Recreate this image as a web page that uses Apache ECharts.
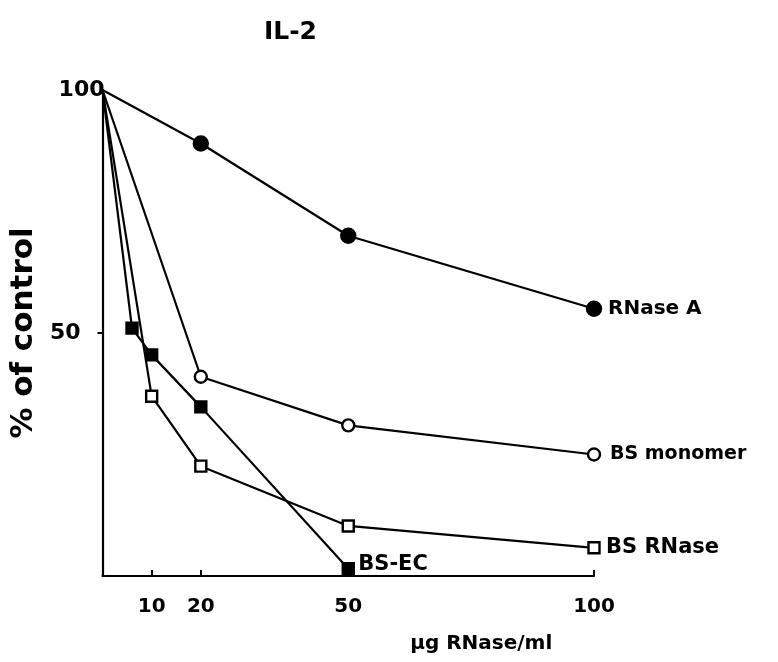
<!DOCTYPE html>
<html>
<head>
<meta charset="utf-8">
<script src="https://cdn.jsdelivr.net/npm/echarts@6/dist/echarts.min.js"></script>
<style>
  html, body { margin: 0; padding: 0; background: #fff; }
  #chart { width: 778px; height: 662px; }
</style>
</head>
<body>
<div id="chart"></div>
<script>
// values (x = ug RNase/ml, y = % of control)
var rnaseA_x = [0, 20, 50, 100];
var rnaseA_y = [100, 89, 70, 55];
var monomer_x = [0, 20, 50, 100];
var monomer_y = [100, 41, 31, 25];
var bsRnase_x = [0, 10, 20, 50, 100];
var bsRnase_y = [100, 37, 22.6, 10.3, 5.8];
var bsEc_x = [0, 6, 10, 20, 50];
var bsEc_y = [100, 51, 45.5, 34.8, 1.5];
var xTicks = [10, 20, 50, 100];
var yTicks = [50, 100];

var FONT = 'DejaVu Sans';

// the first point (the 100% control) has no marker
var toData = function (xs, ys) {
    var res = [];
    for (var i = 0; i < xs.length; i++) {
        if (i == 0) res.push({ value: [xs[i], ys[i]], symbol: 'none' });
        else res.push([xs[i], ys[i]]);
    }
    return res;
};

var makeSeries = function (name, xs, ys, symbol, size, filled, labelOffset, fontSize) {
    return {
        name: name,
        type: 'line',
        data: toData(xs, ys),
        symbol: symbol,
        symbolSize: size,
        showAllSymbol: true,
        lineStyle: { color: '#000', width: 2.2 },
        itemStyle: { color: filled ? '#000' : '#fff', borderColor: '#000', borderWidth: 2.4 },
        endLabel: {
            show: true,
            formatter: name,
            color: '#000',
            fontFamily: FONT,
            fontWeight: 'bold',
            fontSize: fontSize,
            distance: 8,
            offset: labelOffset
        },
        animation: false
    };
};

var myChart = echarts.init(document.getElementById('chart'));
var option = {
    backgroundColor: '#fff',
    animation: false,
    title: {
        text: 'IL-2',
        left: 259,
        top: 15,
        textStyle: { fontFamily: FONT, fontWeight: 'bold', fontSize: 25, color: '#000' }
    },
    grid: { left: 102, right: 184, top: 90, bottom: 86 },
    xAxis: {
        type: 'value',
        min: 0,
        max: 100,
        name: 'µg RNase/ml',
        nameLocation: 'middle',
        nameGap: 58,
        nameTextStyle: { fontFamily: FONT, fontWeight: 'bold', fontSize: 20, color: '#000', padding: [0, 0, 0, 266] },
        axisLine: { lineStyle: { color: '#000', width: 2.2 } },
        axisTick: { inside: true, length: 6, customValues: xTicks, lineStyle: { color: '#000', width: 2 } },
        axisLabel: { customValues: xTicks, margin: 21, fontFamily: FONT, fontWeight: 'bold', fontSize: 20, color: '#000' },
        splitLine: { show: false }
    },
    yAxis: {
        type: 'value',
        min: 0,
        max: 100,
        name: '% of control',
        nameLocation: 'middle',
        nameGap: 50,
        nameRotate: 90,
        nameTextStyle: { fontFamily: FONT, fontWeight: 'bold', fontSize: 31, color: '#000' },
        axisLine: { show: true, lineStyle: { color: '#000', width: 2.2 } },
        axisTick: { show: true, length: 5, customValues: [50], lineStyle: { color: '#000', width: 2 } },
        axisLabel: {
            customValues: yTicks,
            margin: 0,
            fontFamily: FONT,
            fontWeight: 'bold',
            fontSize: 22,
            color: '#000',
            formatter: function (v) { return v == 50 ? '{f|50}' : '{h|100}'; },
            rich: {
                f: { fontFamily: FONT, fontWeight: 'bold', fontSize: 22, color: '#000', padding: [0, 22, 0, 0] },
                h: { fontFamily: FONT, fontWeight: 'bold', fontSize: 22, color: '#000', padding: [0, -2, 0, 0] }
            }
        },
        splitLine: { show: false }
    },
    series: [
        makeSeries('RNase A', rnaseA_x, rnaseA_y, 'circle', 14, true, [6, 0], 20),
        makeSeries('BS monomer', monomer_x, monomer_y, 'circle', 12, false, [8, 0], 19),
        makeSeries('BS RNase', bsRnase_x, bsRnase_y, 'rect', 11, false, [4, 0], 21),
        makeSeries('BS-EC', bsEc_x, bsEc_y, 'rect', 11, true, [2, -4], 21)
    ]
};
myChart.setOption(option);
</script>
</body>
</html>
